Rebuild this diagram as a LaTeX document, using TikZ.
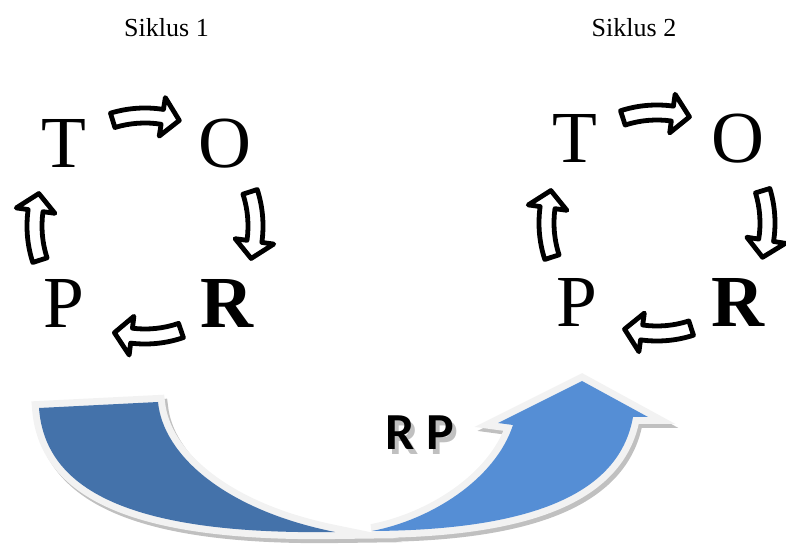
\documentclass[tikz,border=0pt]{standalone}
\usepackage{fontspec}
\setmainfont{Liberation Serif}
\newfontfamily\rpfont{Carlito}
\usetikzlibrary{calc}

\definecolor{bandDark}{RGB}{68,114,170}
\definecolor{bandLight}{RGB}{85,142,213}
\definecolor{rim}{RGB}{242,242,242}
\definecolor{rimShadow}{RGB}{192,192,192}

\tikzset{
  letter/.style={font=\fontsize{55}{55}\selectfont, anchor=base, inner sep=0pt},
  boldletter/.style={letter, font=\fontsize{55}{55}\selectfont\bfseries},
  title/.style={font=\fontsize{19.5}{20}\selectfont, anchor=base, inner sep=0pt},
  cyclearrow/.style={draw=black, line width=3.6pt, fill=white, line join=round},
  rimline/.style={draw=rim, fill=rim, line width=10.5pt, line join=miter, miter limit=10},
  shadowline/.style={draw=rimShadow, fill=rimShadow, line width=10.5pt, line join=miter, miter limit=10},
  rplabel/.style={font=\rpfont\bfseries\fontsize{39}{39}\selectfont, anchor=base, inner sep=0pt},
}

% curved block arrow around a cycle centre #1, centred on screen angle #2
\newcommand\turnarrow[2]{%
  \draw[cyclearrow, shift={(#1)}]
    (#2-17:118) arc[start angle=#2-17, end angle=#2+9, radius=118]
    -- (#2+9:130) -- (#2+18:111) -- (#2+9:91) -- (#2+9:103)
    arc[start angle=#2+9, end angle=#2-17, radius=103] -- cycle;
}

% the two pieces of the large U-shaped arrow
\newcommand\darkpiece{(39,408) -- (158,402) .. controls (163,455) and (225,510) .. (335,532)
  .. controls (130,535) and (45,490) .. (39,408) -- cycle}
\newcommand\lightpiece{(372,531) .. controls (430,520) and (495,480) .. (513,425)
  -- (498,423) -- (582,381) -- (648,417) -- (633,417)
  .. controls (620,490) and (540,530) .. (372,531) -- cycle}

\begin{document}
\begin{tikzpicture}[x=0.75pt, y=-0.75pt]
  \useasboundingbox (0,0) rectangle (786,545);

  % headings
  \node[title] (s1) at (166.5,37) {Siklus 1};
  \node[title] (s2) at (634,37) {Siklus 2};

  % first cycle
  \coordinate (c1) at (145,226);
  \node[letter] (t1) at (64,168) {T};
  \node[letter] (o1) at (225,168) {O};
  \node[letter] (p1) at (64,328) {P};
  \node[boldletter] (r1) at (227,328) {R};
  \turnarrow{c1}{-90}
  \turnarrow{c1}{-1}
  \turnarrow{c1}{88}
  \turnarrow{c1}{179}

  % second cycle
  \coordinate (c2) at (657,223);
  \node[letter] (t2) at (575,163) {T};
  \node[letter] (o2) at (738,163) {O};
  \node[letter] (p2) at (577,327) {P};
  \node[boldletter] (r2) at (738,327) {R};
  \turnarrow{c2}{-91}
  \turnarrow{c2}{0}
  \turnarrow{c2}{89}
  \turnarrow{c2}{179}

  % large arrow: shadow, rim, then fills
  \begin{scope}[shift={(3,4)}]
    \path[shadowline] \darkpiece;
    \path[shadowline] \lightpiece;
  \end{scope}
  \path[rimline] \darkpiece;
  \path[rimline] \lightpiece;
  \fill[bandDark] \darkpiece;
  \fill[bandLight] \lightpiece;

  % label with its shadow
  \node[rplabel, text=rimShadow] (rpshadow) at (424,455) {R P};
  \node[rplabel] (rp) at (420,450) {R P};
\end{tikzpicture}
\end{document}
